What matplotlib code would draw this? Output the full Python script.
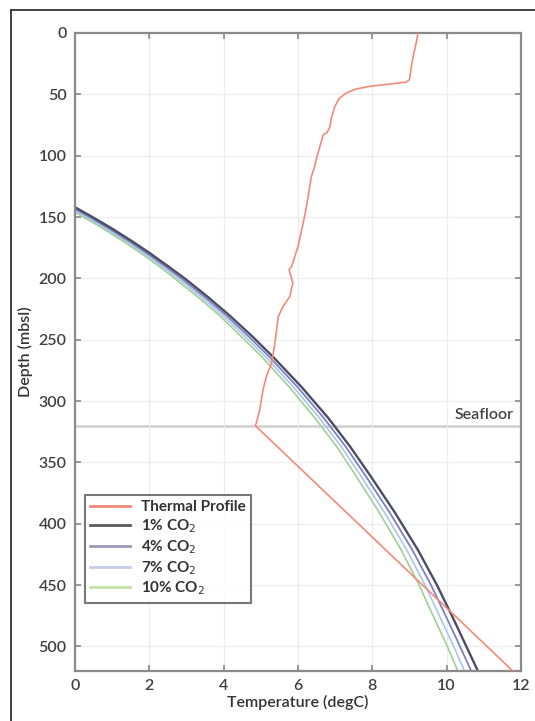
import matplotlib
matplotlib.use("Agg")
import matplotlib.pyplot as plt
from matplotlib.lines import Line2D

plt.rcParams['font.family'] = ['Lato', 'DejaVu Sans']

# Measured water-column / sediment temperature profile (degC vs depth in m)
thermal_temp = [9.23, 9.18, 9.10, 9.05, 9.00, 8.91, 8.47, 7.93, 7.57, 7.30, 7.12,
                6.99, 6.90, 6.85, 6.77, 6.68, 6.59, 6.50, 6.45, 6.36, 6.23, 6.14,
                6.00, 5.83, 5.76, 5.86, 5.78, 5.60, 5.47, 5.38, 5.29, 5.15, 5.06,
                4.97, 4.88, 4.85, 11.78]
thermal_depth = [0, 8, 19, 27, 38, 40, 41.6, 43.5, 45.6, 48.9, 53,
                 59.8, 69.3, 77.4, 81.5, 82.9, 92.4, 101.9, 108.7, 116.9, 141.3, 154.9,
                 173.9, 190.2, 192.9, 203.7, 214.7, 222.8, 231, 252.6, 269, 279.9, 290.7,
                 307, 317.9, 320, 520]

# Hydrate stability boundaries for different CO2 fractions
stab_depth = [142, 150, 160, 170, 180, 190, 200, 215, 230, 247, 264,
              289, 314, 337, 361, 391, 421, 450, 478, 500, 520]
co2_1 = [0.00, 0.47, 1.03, 1.55, 2.04, 2.50, 2.95, 3.57, 4.15, 4.76, 5.33,
         6.11, 6.82, 7.40, 7.95, 8.61, 9.22, 9.74, 10.19, 10.53, 10.84]
co2_4 = [-0.08, 0.39, 0.95, 1.47, 1.96, 2.42, 2.86, 3.48, 4.06, 4.66, 5.23,
         6.00, 6.70, 7.28, 7.82, 8.47, 9.07, 9.58, 10.02, 10.36, 10.66]
co2_7 = [-0.16, 0.31, 0.87, 1.39, 1.88, 2.34, 2.77, 3.39, 3.97, 4.56, 5.13,
         5.89, 6.58, 7.16, 7.69, 8.33, 8.92, 9.42, 9.85, 10.19, 10.48]
co2_10 = [-0.24, 0.23, 0.79, 1.31, 1.80, 2.26, 2.68, 3.30, 3.88, 4.46, 5.03,
          5.78, 6.46, 7.04, 7.56, 8.19, 8.77, 9.26, 9.68, 10.02, 10.30]

seafloor_depth = 320
x_ticks = [0, 2, 4, 6, 8, 10, 12]
y_ticks = [0, 50, 100, 150, 200, 250, 300, 350, 400, 450, 500]

W, H = 535, 721
fig = plt.figure(figsize=(W / 100, H / 100), dpi=100)
ax = fig.add_axes([75 / W, (H - 671) / H, 446 / W, 638 / H])

ax.grid(True, color='#ececec', linewidth=0.8, zorder=0)
ax.axhline(seafloor_depth, color='#cfcfcf', linewidth=1.8, zorder=1)

ax.plot(thermal_temp, thermal_depth, color='#f28a78', linewidth=1.2, zorder=3,
        label='Thermal Profile')
ax.plot(co2_10, stab_depth, color='#9fd08f', linewidth=1.2, zorder=2, label='10% CO$_2$')
ax.plot(co2_7, stab_depth, color='#a9c6ea', linewidth=1.2, zorder=2, label='7% CO$_2$')
ax.plot(co2_4, stab_depth, color='#7d7fc4', linewidth=1.3, zorder=2, label='4% CO$_2$')
ax.plot(co2_1, stab_depth, color='#4b4d63', linewidth=1.7, zorder=2, label='1% CO$_2$')

ax.set_xlim(0, 12)
ax.set_ylim(520, 0)
ax.set_xticks(x_ticks)
ax.set_yticks(y_ticks)
ax.tick_params(direction='in', length=4, width=1.2, color='#888888',
               top=True, right=True, labelsize=11.5, labelcolor='#404040', pad=6)
for lbl in ax.get_xticklabels() + ax.get_yticklabels():
    lbl.set_fontweight('semibold')
for s in ax.spines.values():
    s.set_color('#8a8a8a')
    s.set_linewidth(1.6)

ax.set_xlabel('Temperature (degC)', fontsize=11.5, color='#333333', labelpad=1,
              fontweight='semibold')
ax.set_ylabel('Depth (mbsl)', fontsize=11.5, color='#333333', labelpad=4,
              fontweight='semibold')

ax.text(11.8, seafloor_depth - 3, 'Seafloor', ha='right', va='bottom',
        fontsize=11.5, color='#444444', fontweight='semibold')

handles, labels = ax.get_legend_handles_labels()
order = [0, 4, 3, 2, 1]
legend_colors = ['#f28a78', '#5a5a5a', '#9a9ab8', '#c6cbee', '#c4dfa6']
leg_handles = [Line2D([], [], color=c, linewidth=2.0) for c in legend_colors]
leg = ax.legend(leg_handles, [labels[i] for i in order], loc='lower left',
                bbox_to_anchor=(0.022, 0.107), borderaxespad=0, fontsize=11,
                frameon=True, fancybox=False, edgecolor='#555555',
                handlelength=2.6, labelspacing=0.2, borderpad=0.35,
                handletextpad=0.7)
leg.get_frame().set_linewidth(1.5)
for t in leg.get_texts():
    t.set_color('#333333')
    t.set_fontweight('bold')

# outer frame
fig.add_artist(Line2D([11 / W, 11 / W], [0, 1 - 10 / H], color='#333333',
                      linewidth=1.3, transform=fig.transFigure))
fig.add_artist(Line2D([11 / W, 1], [1 - 10 / H, 1 - 10 / H], color='#333333',
                      linewidth=1.3, transform=fig.transFigure))

fig.savefig('out.png', dpi=100)
